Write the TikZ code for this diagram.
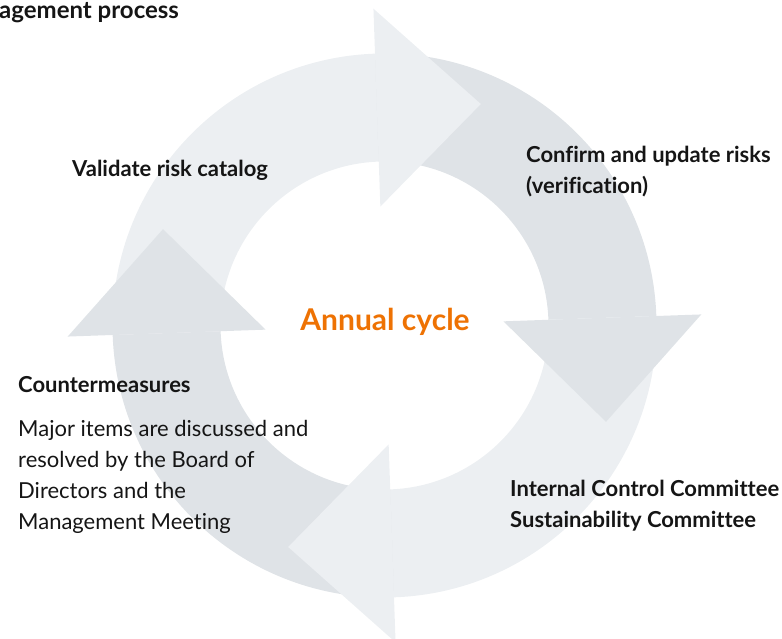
\documentclass[tikz,border=0pt]{standalone}
\usepackage{fontspec}
\setmainfont{Lato}[Ligatures=CommonOff]
\usetikzlibrary{calc}
\definecolor{ringlight}{HTML}{ECEFF2}
\definecolor{ringdark}{HTML}{DFE3E7}
\definecolor{cycleorange}{HTML}{EE7203}
\definecolor{ink}{HTML}{151515}
\begin{document}
\begin{tikzpicture}[
                x=1pt, y=1pt,
                lbl/.style={anchor=base west, inner sep=0pt, text=ink, font=\bfseries\fontsize{22}{31}\selectfont, align=left},
                txt/.style={anchor=base west, inner sep=0pt, text=ink, font=\fontsize{22}{31}\selectfont, align=left}
            ]
            \useasboundingbox (0,0) rectangle (782,639);
            \clip (0,0) rectangle (782,639);
            \coordinate (ctr) at (384.5,313.5);
            % ring segments
            \foreach \b/\c in {92/ringlight, 2/ringdark, -88/ringlight, -178/ringdark}{
                \fill[\c] ($(ctr)+(\b+90:164)$) arc[start angle=\b+90, end angle=\b, radius=164]
                    -- ($(ctr)+(\b:272)$) arc[start angle=\b, end angle=\b+90, radius=272] -- cycle;
            }
            % arrow heads
            \foreach \b/\c in {92/ringlight, 2/ringdark, -88/ringlight, -178/ringdark}{
                \fill[\c] ($(ctr)+(\b:119)$) -- ($(ctr)+(\b:317)$)
                    -- ($(ctr)+(\b:218)+(\b-90:104)$) -- cycle;
            }
            \node[lbl, font=\bfseries\fontsize{24}{30}\selectfont] (title) at (-1,620) {agement process};
            \node[lbl] (valid) at (72,462) {Validate risk catalog};
            \node[lbl] (confirm) at (526,445) {Confirm and update risks\\(verification)};
            \node[anchor=base, inner sep=0pt, text=cycleorange, font=\bfseries\fontsize{30}{34}\selectfont] (cycle) at (385,308) {Annual cycle};
            \node[lbl] (counter) at (18,246) {Countermeasures};
            \node[txt] (major) at (18,109) {Major items are discussed and\\resolved by the Board of\\Directors and the\\Management Meeting};
            \node[lbl] (committee) at (510,111) {Internal Control Committee\\Sustainability Committee};
            \end{tikzpicture}
\end{document}
